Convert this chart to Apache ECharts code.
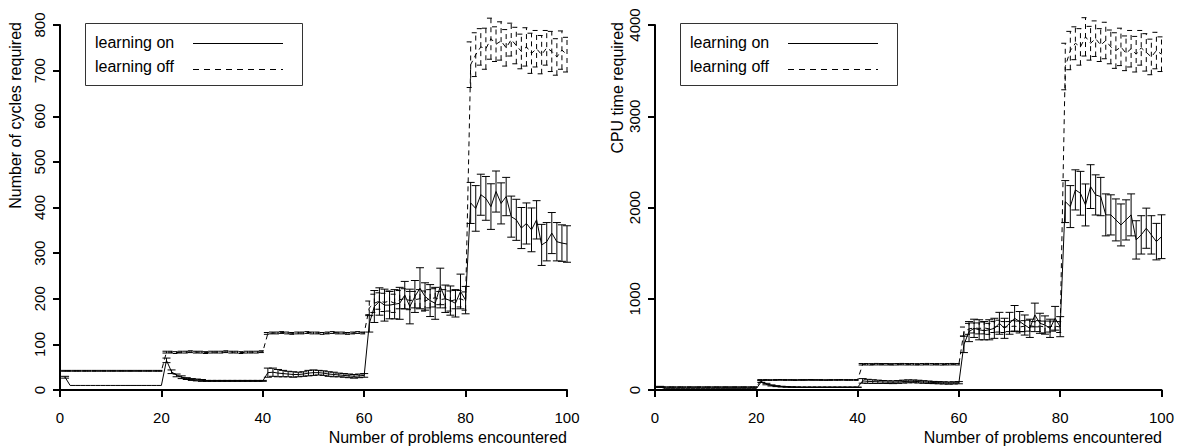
<!DOCTYPE html>
<html><head><meta charset="utf-8">
<script src="https://cdn.jsdelivr.net/npm/echarts@6/dist/echarts.min.js"></script>
<style>html,body{margin:0;padding:0;background:#fff}#c{width:1177px;height:446px}</style>
</head><body><div id="c"></div>
<script>
// ---- tick labels ----
const xTicks = [0, 20, 40, 60, 80, 100];
const cycleTicks = [0, 100, 200, 300, 400, 500, 600, 700, 800];
const cpuTicks = [0, 1000, 2000, 3000, 4000];

// ---- problem numbers 1..100 ----
const problems = [];
for (let i = 1; i <= 100; i++) problems.push(i);

// ---- Number of cycles required ----
const cycOnMean = [
  28,10,10,10,10,10,10,10,10,10, 10,10,10,10,10,10,10,10,10,10,
  65,40,32,28,25,23,22,21,20,20, 20,20,20,20,20,20,20,20,20,20,
  38,39,37,36,35,34,34,35,37,38, 38,37,35,34,33,32,31,30,31,32,
  145,183,194,186,186,188,190,208,183,205, 223,205,196,190,227,200,196,190,216,197,
  410,398,428,420,402,435,409,424,380,373, 355,365,351,373,318,325,344,325,322,320
];
const cycOnErr = [
  2,0,0,0,0,0,0,0,0,0, 0,0,0,0,0,0,0,0,0,0,
  5,4,3,3,2,2,2,2,1,1, 1,1,1,1,1,1,1,1,1,1,
  10,9,8,7,6,6,5,5,6,6, 5,5,5,5,4,4,4,4,4,4,
  18,35,30,35,30,32,35,30,38,35, 45,30,35,35,40,30,32,30,38,30,
  45,50,45,48,50,45,45,42,45,45, 45,45,48,42,45,42,45,42,40,40
];
const cycOffMean = [
  42,42,42,42,42,42,42,42,42,42, 42,42,42,42,42,42,42,42,42,42,
  83,83,82,83,83,84,83,83,82,83, 83,83,84,83,83,82,83,83,83,84,
  124,125,125,126,125,124,125,125,126,125, 125,124,125,126,125,125,124,125,126,125,
  180,190,195,192,195,190,198,200,196,198, 200,195,200,202,198,200,195,198,200,195,
  713,735,752,748,770,758,765,750,768,755, 742,752,738,748,735,750,742,730,745,735
];
const cycOffErr = [
  1,1,1,1,1,1,1,1,1,1, 1,1,1,1,1,1,1,1,1,1,
  2,2,2,2,2,2,2,2,2,2, 2,2,2,2,2,2,2,2,2,2,
  2,2,2,2,2,2,2,2,2,2, 2,2,2,2,2,2,2,2,2,2,
  15,20,18,20,22,20,20,22,20,18, 20,22,20,20,18,20,22,20,18,20,
  50,48,40,45,45,38,42,40,36,40, 38,42,44,40,42,38,44,40,42,38
];

// ---- CPU time required ----
const cpuOnMean = [
  35,15,15,15,15,15,15,15,15,15, 15,15,15,15,15,15,15,15,15,15,
  92,65,50,42,37,34,32,31,30,30, 30,30,30,30,30,30,30,30,30,30,
  100,95,92,90,88,86,85,88,92,95, 95,92,88,85,82,80,78,76,78,80,
  500,640,676,660,650,660,676,731,676,731, 786,750,712,676,822,731,712,676,786,694,
  2065,2010,2193,2156,2028,2229,2138,2120,1919,1919, 1864,1809,1864,1919,1645,1700,1773,1700,1626,1680
];
const cpuOnErr = [
  5,0,0,0,0,0,0,0,0,0, 0,0,0,0,0,0,0,0,0,0,
  10,8,6,5,4,3,3,2,2,2, 2,2,2,2,2,2,2,2,2,2,
  25,22,20,18,16,15,15,15,16,16, 15,15,14,13,12,12,12,12,12,12,
  90,110,100,110,100,110,110,120,110,120, 140,110,110,100,130,110,100,100,130,110,
  230,230,220,240,230,240,220,210,230,220, 230,230,220,230,210,210,220,210,200,240
];
const cpuOffMean = [
  32,32,32,32,32,32,32,32,32,32, 32,32,32,32,32,32,32,32,32,32,
  110,110,109,110,111,110,110,109,110,110, 111,110,110,109,110,110,111,110,110,110,
  282,282,281,283,282,282,281,282,283,282, 282,281,282,283,282,282,281,282,283,282,
  640,670,680,675,680,670,690,700,690,695, 700,690,700,705,695,700,690,695,700,690,
  3545,3720,3800,3760,3870,3800,3850,3780,3830,3760, 3720,3760,3690,3740,3680,3750,3700,3650,3720,3680
];
const cpuOffErr = [
  3,3,3,3,3,3,3,3,3,3, 3,3,3,3,3,3,3,3,3,3,
  4,4,4,4,4,4,4,4,4,4, 4,4,4,4,4,4,4,4,4,4,
  8,8,8,8,8,8,8,8,8,8, 8,8,8,8,8,8,8,8,8,8,
  50,60,55,60,65,60,60,65,60,55, 60,65,60,60,55,60,65,60,55,60,
  255,210,180,200,210,185,195,180,200,185, 195,205,190,200,195,190,205,195,200,190
];

const seriesNames = ['learning on', 'learning off'];
const xTitle = 'Number of problems encountered';
const yTitles = ['Number of cycles required', 'CPU time required'];

// ---- build ----
const FONT = '"Liberation Sans", Arial, Helvetica, sans-serif';
const DASH = [5, 4];

function errRender(dashed) {
  return function (params, api) {
    const x = api.value(0), lo = api.value(1), hi = api.value(2);
    if (!(hi > lo)) return null;
    const a = api.coord([x, lo]), b = api.coord([x, hi]);
    const w = 4;
    const st = { stroke: '#000', lineWidth: 1, fill: null, lineDash: dashed ? DASH : null };
    return {
      type: 'group',
      children: [
        { type: 'line', shape: { x1: a[0], y1: a[1], x2: b[0], y2: b[1] }, style: st },
        { type: 'line', shape: { x1: a[0] - w, y1: a[1], x2: a[0] + w, y2: a[1] }, style: st },
        { type: 'line', shape: { x1: b[0] - w, y1: b[1], x2: b[0] + w, y2: b[1] }, style: st }
      ]
    };
  };
}

function lineSeries(idx, name, means, dashed) {
  return {
    type: 'line', name: name, xAxisIndex: idx, yAxisIndex: idx,
    data: problems.map((p, i) => [p, means[i]]),
    showSymbol: false, symbol: 'none', silent: true,
    lineStyle: { color: '#000', width: 1, type: dashed ? DASH : 'solid' }
  };
}
function errSeries(idx, means, errs, dashed) {
  return {
    type: 'custom', xAxisIndex: idx, yAxisIndex: idx, clip: false, silent: true,
    renderItem: errRender(dashed),
    encode: { x: 0, y: [1, 2] },
    data: problems.map((p, i) => [p, means[i] - errs[i], means[i] + errs[i]])
  };
}

function xAxisCfg(idx) {
  return {
    type: 'value', gridIndex: idx,
    min: xTicks[0], max: xTicks[xTicks.length - 1], interval: xTicks[1] - xTicks[0],
    axisLine: { show: true, onZero: false, lineStyle: { color: '#000', width: 2 } },
    axisTick: { show: true, inside: false, length: 7, lineStyle: { color: '#000', width: 2 } },
    axisLabel: { color: '#000', fontSize: 15, fontFamily: FONT, margin: 20, formatter: v => String(v) },
    splitLine: { show: false }
  };
}
function yAxisCfg(idx, ticks) {
  return {
    type: 'value', gridIndex: idx,
    min: ticks[0], max: ticks[ticks.length - 1], interval: ticks[1] - ticks[0],
    axisLine: { show: true, onZero: false, lineStyle: { color: '#000', width: 2 } },
    axisTick: { show: true, inside: false, length: 7, lineStyle: { color: '#000', width: 2 } },
    axisLabel: { color: '#000', fontSize: 15, fontFamily: FONT, rotate: 90, margin: 13, formatter: v => String(v) },
    splitLine: { show: false }
  };
}

function txt(x, y, s, align, vAlign, rot, size) {
  return {
    type: 'text', x: x, y: y, rotation: rot || 0, silent: true,
    style: { text: s, fill: '#000', fontSize: size || 16, fontFamily: FONT,
             textAlign: align, textVerticalAlign: vAlign, align: align, verticalAlign: vAlign }
  };
}
function legendGroup(x0) {
  return [
    { type: 'rect', silent: true, shape: { x: x0 + 0.5, y: 23.5, width: 217, height: 62 },
      style: { fill: '#fff', stroke: '#333', lineWidth: 1 } },
    txt(x0 + 10, 42, seriesNames[0], 'left', 'middle'),
    txt(x0 + 10, 66, seriesNames[1], 'left', 'middle'),
    { type: 'line', silent: true, shape: { x1: x0 + 108, y1: 43.5, x2: x0 + 198, y2: 43.5 },
      style: { stroke: '#000', lineWidth: 1 } },
    { type: 'line', silent: true, shape: { x1: x0 + 108, y1: 69.5, x2: x0 + 198, y2: 69.5 },
      style: { stroke: '#000', lineWidth: 1, lineDash: [6, 5] } }
  ];
}

const option = {
  animation: false,
  backgroundColor: '#fff',
  grid: [
    { left: 60, top: 25, width: 507, height: 365 },
    { left: 655, top: 25, width: 507, height: 365 }
  ],
  xAxis: [xAxisCfg(0), xAxisCfg(1)],
  yAxis: [yAxisCfg(0, cycleTicks), yAxisCfg(1, cpuTicks)],
  series: [
    lineSeries(0, seriesNames[0], cycOnMean, false),
    errSeries(0, cycOnMean, cycOnErr, false),
    lineSeries(0, seriesNames[1], cycOffMean, true),
    errSeries(0, cycOffMean, cycOffErr, true),
    lineSeries(1, seriesNames[0], cpuOnMean, false),
    errSeries(1, cpuOnMean, cpuOnErr, false),
    lineSeries(1, seriesNames[1], cpuOffMean, true),
    errSeries(1, cpuOffMean, cpuOffErr, true)
  ],
  graphic: [].concat(
    legendGroup(85),
    legendGroup(680),
    [
      txt(567, 437, xTitle, 'right', 'middle'),
      txt(1162, 437, xTitle, 'right', 'middle'),
      txt(15, 22, yTitles[0], 'right', 'middle', Math.PI / 2),
      txt(617, 22, yTitles[1], 'right', 'middle', Math.PI / 2)
    ]
  )
};

const chart = echarts.init(document.getElementById('c'), null, { renderer: 'svg' });
chart.setOption(option);
</script>
</body></html>
